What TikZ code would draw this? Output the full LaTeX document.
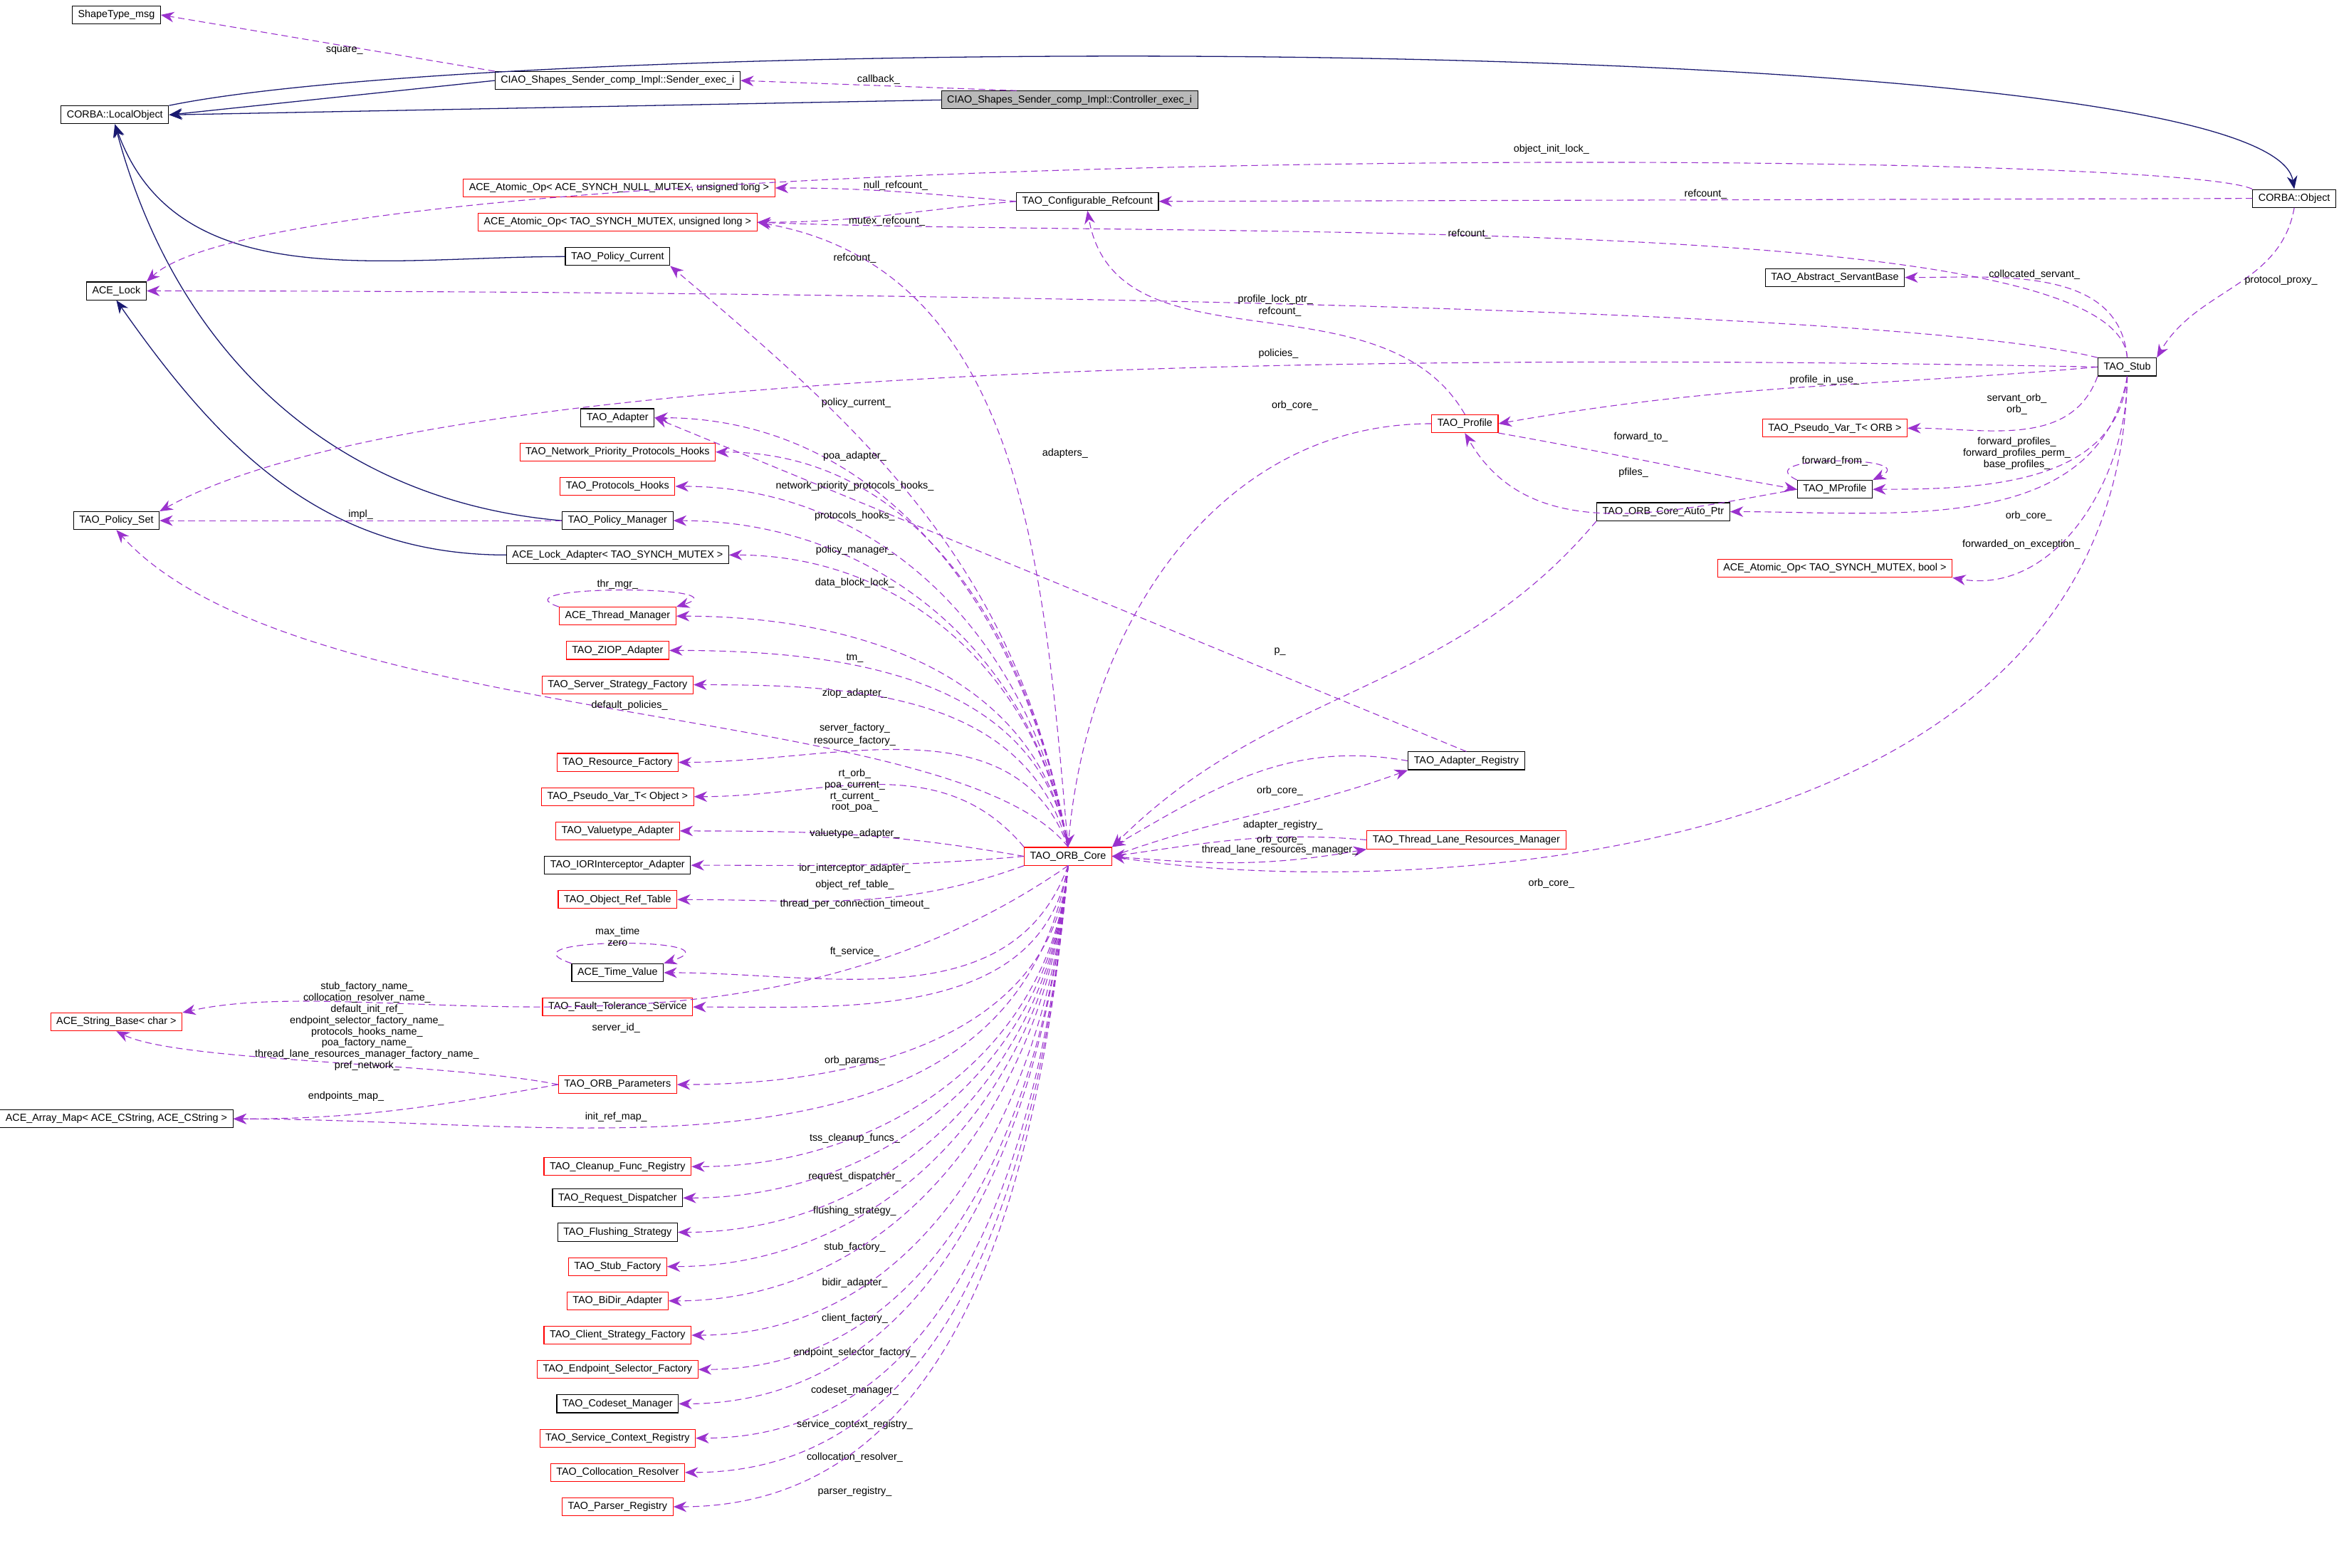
\documentclass[tikz,border=0pt]{standalone}
\usepackage{fontspec}
\setmainfont{Liberation Sans}
\usetikzlibrary{arrows.meta}
\definecolor{inhcol}{HTML}{191970}
\definecolor{usecol}{HTML}{9A32CD}
\newcommand{\lt}{\textless}
\newcommand{\gt}{\textgreater}
\tikzset{
  box/.style={draw=black, fill=white, font=\fontsize{3.9}{4.4}\selectfont, inner xsep=2.2pt, inner ysep=0pt, minimum height=0.24cm, line width=0.3pt},
  redbox/.style={box, draw=red},
  inh/.style={draw=inhcol, line width=0.35pt, -{Stealth[length=5pt,width=4pt]}},
  use/.style={draw=usecol, dashed, dash pattern=on 2.5pt off 1.5pt, line width=0.3pt, -{Stealth[length=5pt,width=4pt]}},
  lbl/.style={font=\fontsize{3.9}{4.3}\selectfont, inner sep=0.3pt, align=center}
}
\begin{document}
\begin{tikzpicture}[x=0.02cm, y=-0.02cm]
    \useasboundingbox (0,0) rectangle (1568,1051);

    % Classes, left side.
    \node[box] (shape) at (78,10) {ShapeType\_msg};
    \node[box] (lobj) at (77,77) {CORBA::LocalObject};
    \node[box] (acelock) at (78,195) {ACE\_Lock};
    \node[box] (polset) at (78,349) {TAO\_Policy\_Set};
    \node[redbox] (strbase) at (78,685) {ACE\_String\_Base\lt{} char \gt};
    \node[box] (arraymap) at (78,750) {ACE\_Array\_Map\lt{} ACE\_CString, ACE\_CString \gt};

    % Classes, middle column.
    \node[box] (sender) at (414,54) {CIAO\_Shapes\_Sender\_comp\_Impl::Sender\_exec\_i};
    \node[box, fill=gray!55] (ctrl) at (717,67) {CIAO\_Shapes\_Sender\_comp\_Impl::Controller\_exec\_i};
    \node[redbox] (atomicnull) at (415,126) {ACE\_Atomic\_Op\lt{} ACE\_SYNCH\_NULL\_MUTEX, unsigned long \gt};
    \node[redbox] (atomicul) at (414,149) {ACE\_Atomic\_Op\lt{} TAO\_SYNCH\_MUTEX, unsigned long \gt};
    \node[box] (polcur) at (414,172) {TAO\_Policy\_Current};
    \node[box] (adapter) at (414,280) {TAO\_Adapter};
    \node[redbox] (nph) at (414,303) {TAO\_Network\_Priority\_Protocols\_Hooks};
    \node[redbox] (ph) at (414,326) {TAO\_Protocols\_Hooks};
    \node[box] (polmgr) at (414,349) {TAO\_Policy\_Manager};
    \node[box] (lockad) at (414,372) {ACE\_Lock\_Adapter\lt{} TAO\_SYNCH\_MUTEX \gt};
    \node[redbox] (thrmgr) at (414,413) {ACE\_Thread\_Manager};
    \node[redbox] (ziop) at (414,436) {TAO\_ZIOP\_Adapter};
    \node[redbox] (ssf) at (414,459) {TAO\_Server\_Strategy\_Factory};
    \node[redbox] (resf) at (414,511) {TAO\_Resource\_Factory};
    \node[redbox] (pvobj) at (414,534) {TAO\_Pseudo\_Var\_T\lt{} Object \gt};
    \node[redbox] (vta) at (414,557) {TAO\_Valuetype\_Adapter};
    \node[box] (ioria) at (414,580) {TAO\_IORInterceptor\_Adapter};
    \node[redbox] (ort) at (414,603) {TAO\_Object\_Ref\_Table};
    \node[box] (tv) at (414,652) {ACE\_Time\_Value};
    \node[redbox] (fts) at (414,675) {TAO\_Fault\_Tolerance\_Service};
    \node[redbox] (orbparams) at (414,727) {TAO\_ORB\_Parameters};
    \node[redbox] (cfr) at (414,782) {TAO\_Cleanup\_Func\_Registry};
    \node[box] (rd) at (414,803) {TAO\_Request\_Dispatcher};
    \node[box] (fs) at (414,826) {TAO\_Flushing\_Strategy};
    \node[redbox] (sf) at (414,849) {TAO\_Stub\_Factory};
    \node[redbox] (bda) at (414,872) {TAO\_BiDir\_Adapter};
    \node[redbox] (csf) at (414,895) {TAO\_Client\_Strategy\_Factory};
    \node[redbox] (esf) at (414,918) {TAO\_Endpoint\_Selector\_Factory};
    \node[box] (cm) at (414,941) {TAO\_Codeset\_Manager};
    \node[redbox] (scr) at (414,964) {TAO\_Service\_Context\_Registry};
    \node[redbox] (cr) at (414,987) {TAO\_Collocation\_Resolver};
    \node[redbox] (pr) at (414,1010) {TAO\_Parser\_Registry};

    % Classes, right side.
    \node[box] (confref) at (729,135) {TAO\_Configurable\_Refcount};
    \node[redbox] (core) at (716,574) {TAO\_ORB\_Core};
    \node[redbox] (profile) at (982,284) {TAO\_Profile};
    \node[box] (autoptr) at (1115,343) {TAO\_ORB\_Core\_Auto\_Ptr};
    \node[box] (adreg) at (983,510) {TAO\_Adapter\_Registry};
    \node[redbox] (tlrm) at (983,563) {TAO\_Thread\_Lane\_Resources\_Manager};
    \node[box] (servantbase) at (1230,186) {TAO\_Abstract\_ServantBase};
    \node[redbox] (pvorb) at (1230,287) {TAO\_Pseudo\_Var\_T\lt{} ORB \gt};
    \node[box] (mprofile) at (1230,328) {TAO\_MProfile};
    \node[redbox] (atomicbool) at (1230,381) {ACE\_Atomic\_Op\lt{} TAO\_SYNCH\_MUTEX, bool \gt};
    \node[box] (corbaobj) at (1538,133) {CORBA::Object};
    \node[box] (stub) at (1426,246) {TAO\_Stub};

    % Inheritance.
    \draw[inh] (sender.west) -- (lobj.east);
    \draw[inh] (ctrl.west) -- (lobj.east);
    \draw[inh] (polcur.west) to[out=180,in=-70] (lobj.south);
    \draw[inh] (polmgr.west) to[out=175,in=-75] (lobj.south);
    \draw[inh] (lockad.west) to[out=180,in=-55] (acelock.south);
    \draw[inh] (lobj.north east) .. controls (350,22) and (1520,18) .. (corbaobj.north);

    % Usage, top part.
    \draw[use] (ctrl.170) -- node[lbl, above] {callback\_} (sender.east);
    \draw[use] (sender.north west) -- node[lbl, below, pos=0.45] {square\_} (shape.east);
    \draw[use] (corbaobj.north west) .. controls (1450,98) and (200,95) .. (acelock.north east);
    \node[lbl] at (1040,100) {object\_init\_lock\_};
    \draw[use] (corbaobj.west) -- node[lbl, above] {refcount\_} (confref.east);
    \draw[use] (confref.west) to[out=175,in=0] node[lbl, above, pos=0.5] {null\_refcount\_} (atomicnull.east);
    \draw[use] (confref.west) to[out=185,in=0] node[lbl, below, pos=0.5] {mutex\_refcount\_} (atomicul.east);
    \draw[use] (stub.north) .. controls (1420,140) and (800,160) .. (atomicul.east);
    \node[lbl] at (985,157) {refcount\_};
    \draw[use] (core.north) to[out=95,in=-10] (atomicul.east);
    \node[lbl] at (573,173) {refcount\_};
    \draw[use] (corbaobj.south) to[out=-100,in=60] node[lbl, right, pos=0.45] {protocol\_proxy\_} (stub.north east);
    \draw[use] (stub.north) to[out=95,in=0] node[lbl, above, pos=0.55] {collocated\_servant\_} (servantbase.east);
    \draw[use] (stub.north west) .. controls (1250,200) and (400,195) .. (acelock.east);
    \node[lbl] at (855,201) {profile\_lock\_ptr\_};
    \draw[use] (profile.north) to[out=120,in=-80] (confref.south);
    \node[lbl] at (858,209) {refcount\_};
    \draw[use] (stub.west) .. controls (1000,238) and (300,236) .. (polset.north east);
    \node[lbl] at (857,237) {policies\_};
    \draw[use] (stub.west) to[out=185,in=10] node[lbl, above, pos=0.45] {profile\_in\_use\_} (profile.east);
    \draw[use] (stub.south west) to[out=-110,in=0] (pvorb.east);
    \node[lbl] at (1352,271) {servant\_orb\_\\orb\_};
    \draw[use] (stub.south) to[out=-95,in=0] (mprofile.east);
    \node[lbl] at (1352,304) {forward\_profiles\_\\forward\_profiles\_perm\_\\base\_profiles\_};
    \draw[use] (profile.south east) to[out=-10,in=170] (mprofile.west);
    \node[lbl] at (1100,293) {forward\_to\_};
    \draw[use] (mprofile.west) to[out=190,in=-60] (profile.south);
    \node[lbl] at (1095,317) {pfiles\_};
    \draw[use] (mprofile.north west) .. controls (1170,305) and (1290,305) .. (mprofile.north east);
    \node[lbl] at (1230,309) {forward\_from\_};
    \draw[use] (stub.south) to[out=-100,in=0] (autoptr.east);
    \node[lbl] at (1360,346) {orb\_core\_};
    \draw[use] (stub.south) to[out=-90,in=-10] (atomicbool.south east);
    \node[lbl] at (1355,365) {forwarded\_on\_exception\_};

    % Usage, around the ORB core.
    \draw[use] (profile.west) to[out=180,in=85] (core.north);
    \node[lbl] at (868,272) {orb\_core\_};
    \draw[use] (stub.south) .. controls (1420,600) and (900,600) .. (core.east);
    \node[lbl] at (1040,592) {orb\_core\_};
    \draw[use] (autoptr.south west) to[out=-130,in=45] (core.north east);
    \node[lbl] at (858,437) {p\_};
    \draw[use] (adreg.north) -- (adapter.east);
    \node[lbl] at (714,304) {adapters\_};
    \draw[use] (adreg.west) to[out=170,in=30] (core.north east);
    \node[lbl] at (858,530) {orb\_core\_};
    \draw[use] (core.east) to[out=20,in=200] (adreg.south west);
    \node[lbl] at (860,553) {adapter\_registry\_};
    \draw[use] (tlrm.west) to[out=175,in=8] (core.east);
    \node[lbl] at (858,563) {orb\_core\_};
    \draw[use] (core.east) to[out=-5,in=190] (tlrm.south west);
    \node[lbl] at (858,570) {thread\_lane\_resources\_manager\_};

    % Usage, left side.
    \draw[use] (polmgr.west) -- node[lbl, above] {impl\_} (polset.east);
    \draw[use] (core.north) .. controls (640,470) and (200,490) .. (polset.south);
    \node[lbl] at (422,473) {default\_policies\_};
    \draw[use] (thrmgr.north west) .. controls (330,392) and (500,392) .. (thrmgr.north east);
    \node[lbl] at (414,392) {thr\_mgr\_};
    \draw[use] (tv.north west) .. controls (330,628) and (500,628) .. (tv.north east);
    \node[lbl] at (414,628) {max\_time\\zero};
    \draw[use] (core.south) .. controls (500,730) and (250,650) .. (strbase.north east);
    \node[lbl] at (413,689) {server\_id\_};
    \draw[use] (orbparams.west) .. controls (300,712) and (120,712) .. (strbase.south);
    \node[lbl] at (246,688) {stub\_factory\_name\_\\collocation\_resolver\_name\_\\default\_init\_ref\_\\endpoint\_selector\_factory\_name\_\\protocols\_hooks\_name\_\\poa\_factory\_name\_\\thread\_lane\_resources\_manager\_factory\_name\_\\pref\_network\_};
    \draw[use] (orbparams.west) to[out=190,in=0] (arraymap.east);
    \node[lbl] at (232,735) {endpoints\_map\_};
    \draw[use] (core.south) to[out=-100,in=0] (arraymap.east);
    \node[lbl] at (413,749) {init\_ref\_map\_};

    % Members of the ORB core.
    \draw[use] (core.north) to[out=100,in=-40] (polcur.south east);
    \node[lbl] at (574,270) {policy\_current\_};
    \foreach \t/\a/\o/\ly/\txt in {
        adapter/north/100/306/poa\_adapter\_,
        nph/north/100/326/network\_priority\_protocols\_hooks\_,
        ph/north/100/346/protocols\_hooks\_,
        polmgr/north/100/369/policy\_manager\_,
        lockad/north/100/391/data\_block\_lock\_,
        thrmgr/north/100/441/tm\_,
        ziop/north/100/465/ziop\_adapter\_,
        ssf/north/105/488/server\_factory\_,
        resf/north/110/497/resource\_factory\_,
        pvobj/north west/130/530/{rt\_orb\_\\poa\_current\_\\rt\_current\_\\root\_poa\_},
        vta/west/170/559/valuetype\_adapter\_,
        ioria/west/185/582/ior\_interceptor\_adapter\_,
        ort/south west/200/593/object\_ref\_table\_,
        tv/south/-110/606/thread\_per\_connection\_timeout\_,
        fts/south/-100/638/ft\_service\_,
        orbparams/south/-95/711/orb\_params\_,
        cfr/south/-95/763/tss\_cleanup\_funcs\_,
        rd/south/-95/789/request\_dispatcher\_,
        fs/south/-95/812/flushing\_strategy\_,
        sf/south/-95/836/stub\_factory\_,
        bda/south/-95/860/bidir\_adapter\_,
        csf/south/-95/884/client\_factory\_,
        esf/south/-95/907/endpoint\_selector\_factory\_,
        cm/south/-95/932/codeset\_manager\_,
        scr/south/-95/955/service\_context\_registry\_,
        cr/south/-95/977/collocation\_resolver\_,
        pr/south/-95/1000/parser\_registry\_}
      {
        \draw[use] (core.\a) to[out=\o,in=0] (\t.east);
        \node[lbl] at (573,\ly) {\txt};
      }
\end{tikzpicture}
\end{document}
